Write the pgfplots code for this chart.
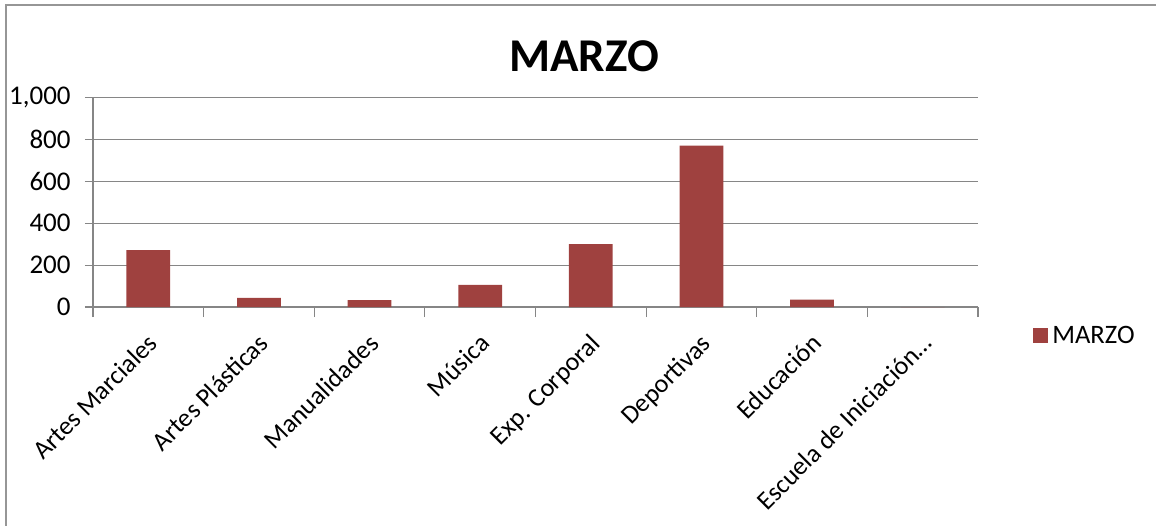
\documentclass[border=0pt]{standalone}
\usepackage{pgfplots}
\pgfplotsset{compat=1.18}
\usepackage{fontspec}
\setmainfont{Carlito}
\definecolor{barred}{RGB}{159,65,63}
\definecolor{gridgray}{RGB}{134,134,134}
\definecolor{framegray}{RGB}{150,150,150}
\begin{document}
\begin{tikzpicture}
\path[use as bounding box] (0,0) rectangle (578pt,262.5pt);
\draw[framegray, line width=1pt] (3.2pt,-1pt) -- (3.2pt,259.8pt) -- (579pt,259.8pt);
\node[font=\fontsize{23.5}{27}\selectfont\bfseries] at (292pt,234.5pt) {MARZO};
\begin{axis}[
  at={(46.5pt,109pt)}, anchor=south west,
  scale only axis, width=442.5pt, height=104.6pt,
  xmin=-0.5, xmax=7.5, ymin=0, ymax=1000,
  ytick={0,200,400,600,800,1000},
  /pgf/number format/assume math mode=true,
  /pgf/number format/1000 sep={,},
  xtick={-0.5,0.5,1.5,2.5,3.5,4.5,5.5,6.5,7.5},
  x tick label as interval,
  xticklabels={{Artes Marciales},{Artes Plásticas},{Manualidades},{Música},{Exp. Corporal},{Deportivas},{Educación},{Escuela de Iniciación…}},
  x tick label style={xshift=-1pt, yshift=-7pt, rotate=45, anchor=north east, inner sep=1pt, font=\fontsize{13}{16}\selectfont},
  tick align=outside,
  major tick length=4pt,
  xtick style={gridgray, line width=0.6pt, /pgfplots/major tick length=5pt},
  ymajorgrids, xmajorgrids=false,
  grid style={gridgray, line width=0.6pt},
  axis x line*=bottom, axis y line*=left,
  axis line style={gridgray, line width=0.6pt},
  y axis line style={-}, x axis line style={-},
  ytick style={gridgray, line width=0.6pt},
  tick label style={font=\fontsize{13.5}{16}\selectfont, text=black},
  y tick label style={inner sep=1pt, xshift=-6pt},
  ybar, bar width=0.395,
  legend style={at={(1.062,-0.138)}, anchor=west, draw=none, fill=none, font=\fontsize{13.3}{15}\selectfont, inner sep=0pt, legend cell align=left},
  legend image code/.code={\fill[barred] (0pt,-3.75pt) rectangle (7.5pt,3.75pt);},
]
\addplot[fill=barred, draw=none] coordinates {(0,272) (1,44) (2,33) (3,106) (4,300) (5,771) (6,35) (7,0)};
\addlegendentry{MARZO}
\end{axis}
\end{tikzpicture}
\end{document}
